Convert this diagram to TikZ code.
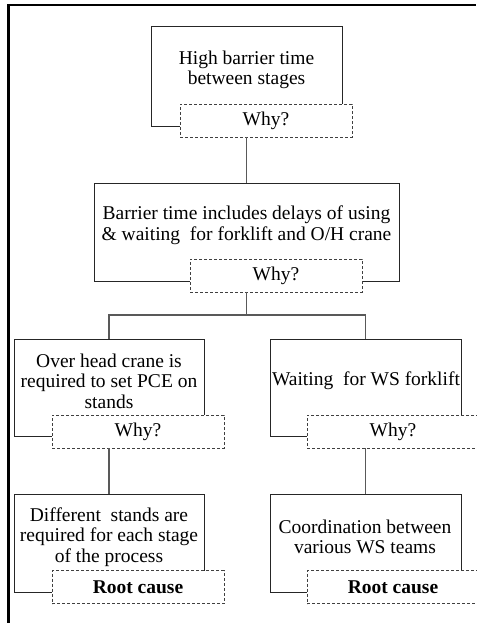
\documentclass[tikz,border=0pt]{standalone}
\usepackage{fontspec}
\setmainfont{Liberation Serif}
\begin{document}
\begin{tikzpicture}[x=1pt,y=-1pt,
  box/.style={draw=black!85, line width=0.9pt, rectangle, inner sep=0pt, fill=white,
    minimum width=#1},
  box/.default=190pt,
  whybox/.style={draw=black!75, line width=0.8pt, dashed, dash pattern=on 3pt off 2pt,
    rectangle, fill=white, inner sep=0pt, minimum width=172pt, minimum height=33pt,
    font=\fontsize{19.5}{20}\selectfont},
  txt/.style={align=center, inner sep=0pt, font=\fontsize{19.5}{20.5}\selectfont},
  link/.style={draw=black!65, line width=1.1pt},
  frame/.style={draw=black, line width=2.5pt}]
\useasboundingbox (0,0) rectangle (476,623);

% outer frame, open to the right and bottom
\draw[frame] (8.5,623) -- (8.5,5) -- (476,5);

% level 1
\node[box=191pt, minimum height=100pt] (b1) at (246.5,76) {};
\node[txt] (t1) at (246.5,70) {High barrier time\\between stages};
\node[whybox] (w1) at (266,120.5) {Why?};

% level 2
\node[box=305pt, minimum height=98pt] (b2) at (246.5,232) {};
\node[txt] (t2) at (246.5,225) {Barrier time includes delays of using\\\& waiting\ \ for forklift and O/H crane};
\node[whybox] (w2) at (276,275.5) {Why?};

% level 3
\node[box=190pt, minimum height=97pt] (b3) at (109,387.5) {};
\node[txt] (t3) at (109,381) {Over head crane is\\required to set PCE on\\stands};
\node[whybox] (w3) at (138,431.5) {Why?};

\node[box=191pt, minimum height=97pt] (b4) at (365.5,387.5) {};
\node[txt] (t4) at (366,381) {Waiting\ \ for WS forklift};
\node[whybox] (w4) at (393,431.5) {Why?};

% level 4
\node[box=190pt, minimum height=98pt] (b5) at (109,543) {};
\node[txt] (t5) at (109,537) {Different\ \ stands are\\required\ for each stage\\of the process};
\node[whybox] (r5) at (138,587) {\textbf{Root cause}};

\node[box=191pt, minimum height=98pt] (b6) at (365.5,543) {};
\node[txt] (t6) at (365,537) {Coordination between\\various WS teams};
\node[whybox] (r6) at (393,587) {\textbf{Root cause}};

% connectors
\coordinate (split) at (246.5,315);
\draw[link] (b1.south |- w1.south) -- (b2.north);
\draw[link] (b2.south |- w2.south) -- (split);
\draw[link] (b3.north) |- (split) -| (b4.north);
\draw[link] (b3.south |- w3.south) -- (b5.north);
\draw[link] (b4.south |- w4.south) -- (b6.north);
\end{tikzpicture}
\end{document}
